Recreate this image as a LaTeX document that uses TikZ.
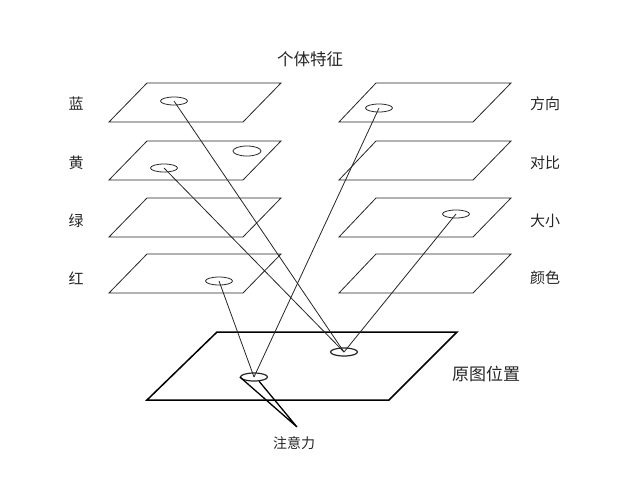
\documentclass[tikz,border=0pt]{standalone}
\usepackage{fontspec}
\newfontfamily\cjk{Noto Sans CJK SC}
\usetikzlibrary{shapes.geometric}
\begin{document}
\begin{tikzpicture}[x=1pt,y=-1pt,
  plane/.style={draw=black!85,line width=0.8pt,line join=miter},
  bigplane/.style={draw=black,line width=1.5pt},
  spot/.style={draw=black!85,ellipse,line width=0.8pt,minimum width=27pt,minimum height=8pt,inner sep=0pt,fill=white},
  ray/.style={draw=black!85,line width=0.8pt},
  lbl/.style={font=\cjk\fontsize{15}{15}\selectfont,text=black!85,inner sep=0pt}]
\useasboundingbox (0,0) rectangle (640,501);
\fill[white] (0,0) rectangle (640,501);
% feature planes
\foreach \t in {83,141,198,254}{
  \draw[plane] (109,\t+39) -- (243,\t+39) -- (281,\t) -- (147,\t) -- cycle;
  \draw[plane] (339,\t+39) -- (473,\t+39) -- (511,\t) -- (376,\t) -- cycle;
}
% bottom plane
\draw[bigplane] (147,400) -- (389,400) -- (457,332) -- (217,332) -- cycle;
% spots
\node[spot] (l1) at (174,101) {};
\node[spot,minimum width=28pt,minimum height=10pt] (l2b) at (247,151) {};
\node[spot] (l2) at (164,168) {};
\node[spot] (l4) at (219,281) {};
\node[spot] (r1) at (379,108) {};
\node[spot] (r3) at (456,214) {};
\node[spot,line width=1.2pt] (pa) at (344,352) {};
\node[spot,line width=1.2pt] (pb) at (254,377) {};
% rays
\draw[ray] (l1.center) -- (pa.center);
\draw[ray] (l2.center) -- (pa.center);
\draw[ray] (r3.center) -- (pa.center);
\draw[ray] (l4.center) -- (pb.center);
\draw[ray] (r1.center) -- (pb.center);
% cone
\coordinate (apex) at (297,427);
\draw[line width=1.3pt] (pb.west) -- (apex) -- (pb.-40);
% labels
\node[lbl,font=\cjk\fontsize{16.5}{16.5}\selectfont] (t0) at (310,59) {个体特征};
\node[lbl] (a1) at (76,104) {蓝};
\node[lbl] (a2) at (76,163) {黄};
\node[lbl] (a3) at (76,221) {绿};
\node[lbl] (a4) at (76,278) {红};
\node[lbl] (b1) at (545,104) {方向};
\node[lbl] (b2) at (545,163) {对比};
\node[lbl] (b3) at (545,221) {大小};
\node[lbl] (b4) at (545,278) {颜色};
\node[lbl,font=\cjk\fontsize{17}{17}\selectfont] (c1) at (486,374) {原图位置};
\node[lbl,font=\cjk\fontsize{14}{14}\selectfont] (c2) at (294,443) {注意力};
\end{tikzpicture}
\end{document}
